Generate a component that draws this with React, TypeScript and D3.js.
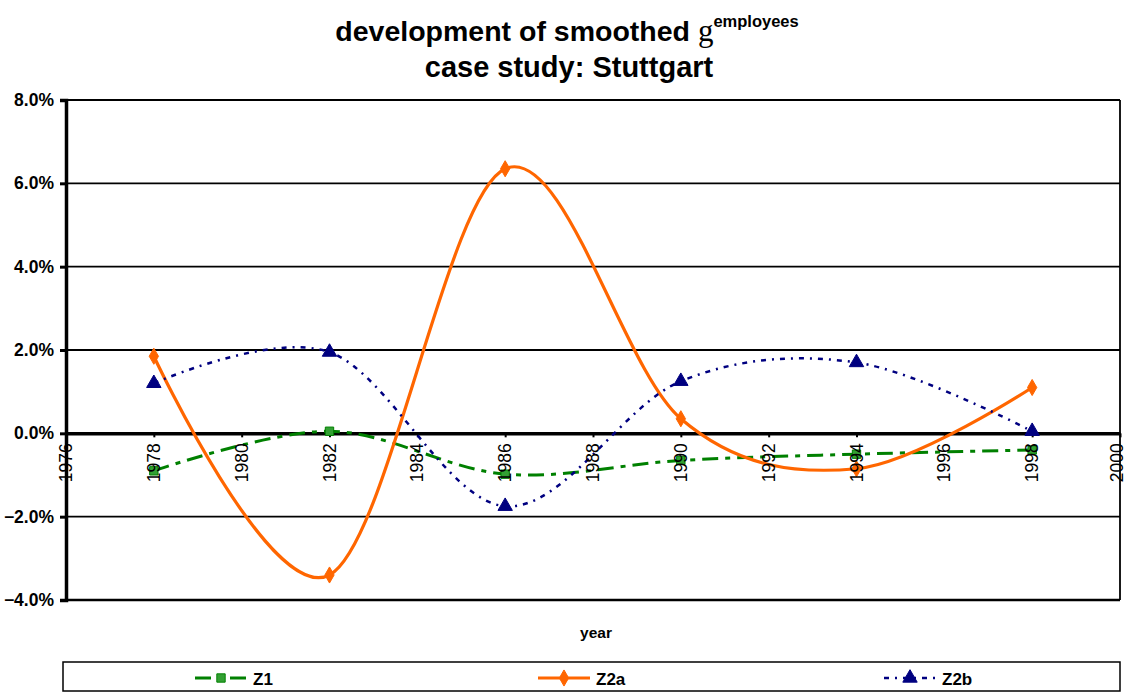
import React, { useEffect, useRef } from 'react';
import * as d3 from 'd3';

// values (share, e.g. 0.0185 = 1.85%)
const years = [1978, 1982, 1986, 1990, 1994, 1998];
const z1 = [-0.009, 0.0005, -0.0098, -0.0065, -0.005, -0.004];
const z2a = [0.0185, -0.034, 0.0635, 0.0035, -0.0085, 0.011];
const z2b = [0.012, 0.0195, -0.0175, 0.0125, 0.017, 0.0005];
const xTicks = d3.range(1976, 2001, 2);
const yTicks = [-0.04, -0.02, 0, 0.02, 0.04, 0.06, 0.08];

const W = 1128;
const H = 693;
const font = 'Arial, "Liberation Sans", sans-serif';

const App = () => {
  const ref = useRef<SVGSVGElement>(null);

  useEffect(() => {
    const svg = d3.select(ref.current);
    svg.selectAll('*').remove();

    const left = 66, right = 1120, top = 100, bottom = 600;

    const x = d3.scaleLinear().domain([1976, 2000]).range([left, right]);
    const y = d3.scaleLinear().domain([-0.04, 0.08]).range([bottom, top]);

    // title
    const t1 = svg.append('text')
      .attr('x', 567).attr('y', 41)
      .attr('text-anchor', 'middle')
      .style('font-family', font).style('font-weight', 'bold').style('font-size', '28.5px');
    t1.append('tspan').text('development of smoothed ');
    t1.append('tspan').text('g')
      .style('font-family', '"Liberation Serif", "Times New Roman", serif')
      .style('font-weight', 'normal').style('font-size', '31px');
    t1.append('tspan').text('employees')
      .attr('dy', -14).style('font-size', '16.5px');

    svg.append('text')
      .attr('x', 569).attr('y', 77)
      .attr('text-anchor', 'middle')
      .style('font-family', font).style('font-weight', 'bold').style('font-size', '29px')
      .text('case study: Stuttgart');

    // gridlines
    svg.append('g').selectAll('line')
      .data(yTicks)
      .join('line')
      .attr('x1', left).attr('x2', right)
      .attr('y1', d => y(d)).attr('y2', d => y(d))
      .attr('stroke', '#000')
      .attr('stroke-width', d => (d === -0.04 ? 2.5 : 1.8));

    // right border
    svg.append('line')
      .attr('x1', right).attr('x2', right)
      .attr('y1', top).attr('y2', bottom)
      .attr('stroke', '#000').attr('stroke-width', 1.8);

    // y axis
    const yAxis = svg.append('g')
      .attr('transform', `translate(${left},0)`)
      .call(d3.axisLeft(y).tickValues(yTicks).tickFormat(d3.format('.1%')).tickSize(6));
    yAxis.select('.domain').attr('stroke-width', 3.5);
    yAxis.selectAll('.tick line').attr('stroke-width', 3);
    yAxis.selectAll('text')
      .attr('x', -12)
      .style('font-family', font).style('font-weight', 'bold').style('font-size', '17.5px')
      .attr('fill', '#000');

    const series = [
      { name: 'Z1', values: z1, color: '#008000', width: 3, dash: '16,7,5,7', marker: 'square' },
      { name: 'Z2a', values: z2a, color: '#ff6600', width: 3.2, dash: null, marker: 'diamond' },
      { name: 'Z2b', values: z2b, color: '#000080', width: 2.5, dash: '5,6,2,6', marker: 'triangle' },
    ];

    const line = d3.line<[number, number]>()
      .x(d => x(d[0]))
      .y(d => y(d[1]))
      .curve(d3.curveCardinal.tension(0));

    const symbolOf = (m: string) =>
      m === 'square' ? d3.symbolSquare : m === 'diamond' ? d3.symbolDiamond : d3.symbolTriangle;
    const sizeOf = (m: string) => (m === 'triangle' ? 90 : m === 'diamond' ? 75 : 70);

    // zero axis line (thick)
    const xAxis = svg.append('g')
      .attr('transform', `translate(0,${y(0)})`)
      .call(d3.axisBottom(x).tickValues(xTicks).tickFormat(d3.format('d')).tickSize(4).tickSizeOuter(0));
    xAxis.select('.domain').attr('stroke-width', 3.5);
    xAxis.selectAll('.tick line').attr('stroke-width', 2);
    xAxis.selectAll('text').remove();

    series.forEach(s => {
      const pts = years.map((yr, i) => [yr, s.values[i]] as [number, number]);
      svg.append('path')
        .datum(pts)
        .attr('d', line)
        .attr('fill', 'none')
        .attr('stroke', s.color)
        .attr('stroke-width', s.width)
        .attr('stroke-dasharray', s.dash);
      svg.append('g').selectAll('path')
        .data(pts)
        .join('path')
        .attr('transform', d => `translate(${x(d[0])},${y(d[1])})`)
        .attr('d', d3.symbol().type(symbolOf(s.marker)).size(sizeOf(s.marker)))
        .attr('fill', s.marker === 'square' ? '#33a033' : s.color)
        .attr('stroke', s.color)
        .attr('stroke-width', 1);
    });

    // x tick labels, rotated, on top of the series (last one nudged to stay inside the page)
    svg.append('g').selectAll('text')
      .data(xTicks)
      .join('text')
      .attr('transform', d => `translate(${Math.min(x(d) + 6, W - 5)},${y(0) + 10}) rotate(-90)`)
      .attr('text-anchor', 'end')
      .style('font-family', font).style('font-size', '17.5px')
      .text(d => String(d));

    // axis title
    svg.append('text')
      .attr('x', 596).attr('y', 638)
      .attr('text-anchor', 'middle')
      .style('font-family', font).style('font-weight', 'bold').style('font-size', '15.5px')
      .text('year');

    // legend
    svg.append('rect')
      .attr('x', 63).attr('y', 662).attr('width', 1057).attr('height', 29)
      .attr('fill', '#fff').attr('stroke', '#000').attr('stroke-width', 1.5);

    const legendX = [221, 564, 910];
    series.forEach((s, i) => {
      const g = svg.append('g').attr('transform', `translate(${legendX[i]},678)`);
      g.append('line')
        .attr('x1', -26).attr('x2', 26)
        .attr('stroke', s.color).attr('stroke-width', s.width)
        .attr('stroke-dasharray', s.dash);
      g.append('path')
        .attr('d', d3.symbol().type(symbolOf(s.marker)).size(sizeOf(s.marker)))
        .attr('fill', s.marker === 'square' ? '#33a033' : s.color)
        .attr('stroke', s.color);
      g.append('text')
        .attr('x', 32).attr('y', 7)
        .style('font-family', font).style('font-weight', 'bold').style('font-size', '17px')
        .text(s.name);
    });
  }, []);

  return <svg ref={ref} width={W} height={H} style={{ position: 'absolute', left: 0, top: 0 }} />;
};

export default App;
